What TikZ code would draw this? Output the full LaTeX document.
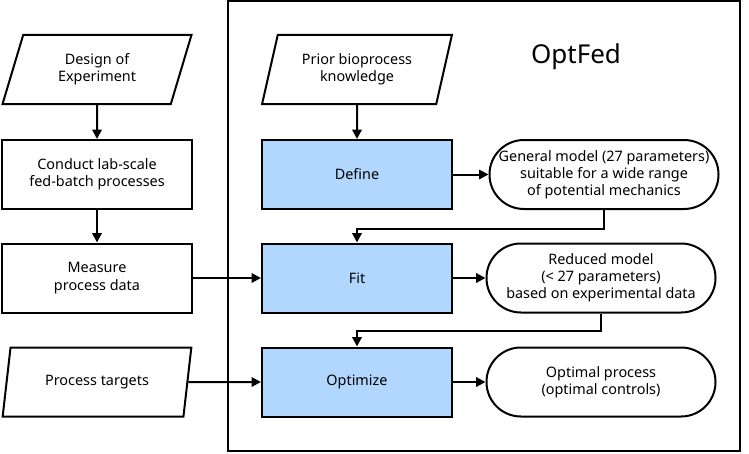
\documentclass[tikz,border=0pt]{standalone}
\usepackage{fontspec}
\setmainfont{Noto Sans}
\usetikzlibrary{shapes.geometric,arrows.meta}

\begin{document}
\begin{tikzpicture}[x=0.75pt,y=-0.75pt]

    \tikzset{
      step box/.style={
        draw,
        line width=1.5pt,
        align=center,
        minimum width=142.5pt,
        minimum height=51.75pt,
        inner sep=0pt,
        font=\fontsize{10.8}{12.9}\selectfont,
      },
      data box/.style={
        step box,
        trapezium,
        trapezium stretches=true,
        trapezium left angle=71,
        trapezium right angle=109,
      },
      core box/.style={
        step box,
        fill={rgb,255:red,178;green,215;blue,255},
      },
      result box/.style={
        step box,
        rounded corners=25.8pt,
        minimum width=171.75pt,
      },
      flow/.style={
        line width=1.5pt,
        -{Triangle[length=7pt,width=7pt]},
      },
    }
    \useasboundingbox (0,0) rectangle (749,453);
    \draw[line width=1.5pt] (228,1) rectangle (740,451);
    	\node (title) at (576,57) {\fontsize{19.5}{22}\selectfont OptFed};
	% left column
	\node[data box] (doe) at (97,69.5) {Design of\\Experiment};
	\node[step box] (conduct) at (97,174.5) {Conduct lab-scale\\fed-batch processes};
	\node[step box] (measure) at (97,278) {Measure\\process data};
	\node[data box] (targets) at (97,382) {Process targets};
	% OptFed column
	\node[data box] (prior) at (357,69.5) {Prior bioprocess\\knowledge};
	\node[core box] (define) at (357,174.5) {Define};
	\node[core box] (fit) at (357,278) {Fit};
	\node[core box] (optimize) at (357,382) {Optimize};
	% models
	\node[result box] (general) at (604,174.5) {General model (27 parameters)\\suitable for a wide range\\of potential mechanics};
	\node[result box] (reduced) at (601,278) {Reduced model\\(< 27 parameters)\\based on experimental data};
	\node[result box] (optimal) at (601,382) {Optimal process\\(optimal controls)};

	\draw[flow] (doe) -- (conduct);
	\draw[flow] (conduct) -- (measure);
	\draw[flow] (measure) -- (fit);
	\draw[flow] (targets) -- (optimize);
	\draw[flow] (prior) -- (define);
	\draw[flow] (define) -- (general);
	\draw[flow] (fit) -- (reduced);
	\draw[flow] (optimize) -- (optimal);
	\draw[flow] (general.south) -- ++(0,19) -| (fit.north);
	\draw[flow] (reduced.south) -- ++(0,17) -| (optimize.north);

\end{tikzpicture}
\end{document}
